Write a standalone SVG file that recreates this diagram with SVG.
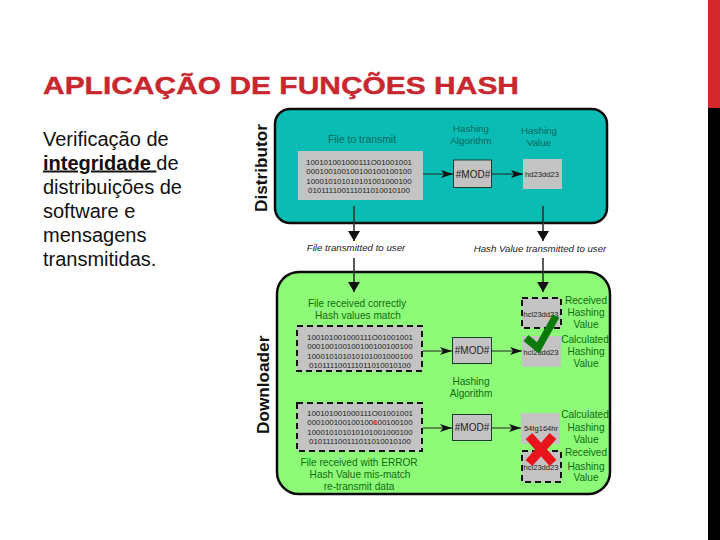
<svg xmlns="http://www.w3.org/2000/svg" width="720" height="540" viewBox="0 0 720 540">
<style>
text{font-family:"Liberation Sans",Arial,sans-serif}
.t{font-size:24px;font-weight:bold;fill:#c8272e;stroke:#c8272e;stroke-width:.4px}
.b{font-size:20px;fill:#111}
.side{font-size:17.200px;font-weight:bold;fill:#111}
.dl{fill:#006a5e;font-size:9.800px;text-anchor:middle}
.gl{fill:#0f6b0f;font-size:10.100px;text-anchor:middle}
.it{font-size:9.700px;font-style:italic;fill:#222;text-anchor:middle}
.bits{font-size:7.900px;fill:#222;text-anchor:middle}
.hash{font-size:7.600px;fill:#222;text-anchor:middle}
.mod{font-size:10px;fill:#222;text-anchor:middle}
.g{fill:#c3c3c3}
.dash{fill:#c3c3c3;stroke:#111;stroke-width:2;stroke-dasharray:6 4}
.m{stroke:#1c3c30;stroke-width:1}
.l{stroke:#222;stroke-width:1;fill:none}
.a{stroke:#333;stroke-width:1.600;fill:none}
</style>
<defs>
<marker id="h" viewBox="0 0 12 8" refX="12" refY="4" markerWidth="12" markerHeight="8" markerUnits="userSpaceOnUse" orient="auto"><path d="M0 0L12 4L0 8L3 4Z" fill="#111"/></marker>
<marker id="big" viewBox="0 0 12 10" refX="6" refY="10" markerWidth="12" markerHeight="10" markerUnits="userSpaceOnUse" orient="0"><path d="M0 0H12L6 10Z" fill="#111"/></marker>
</defs>
<rect x="708" y="0" width="12" height="108" fill="#d2282e"/>
<rect x="708" y="108" width="12" height="432" fill="#000"/>
<text class="t" x="43" y="94" textLength="476" lengthAdjust="spacingAndGlyphs">APLICAÇÃO DE FUNÇÕES HASH</text>
<text class="b" x="43" y="145.500">Verificação de</text>
<text class="b" x="43" y="169.500"><tspan font-weight="bold" text-decoration="underline">integridade </tspan>de</text>
<text class="b" x="43" y="193.500">distribuições de</text>
<text class="b" x="43" y="217.500">software e</text>
<text class="b" x="43" y="241.500">mensagens</text>
<text class="b" x="43" y="265.500">transmitidas.</text>

<g id="distributor">
<rect x="275" y="109" width="332" height="114" rx="15" fill="#0bbcb4" stroke="#0a0a0a" stroke-width="2.500"/>
<text class="side" transform="translate(267 212) rotate(-90)">Distributor</text>
<text class="dl" x="362" y="143" style="font-size:10.400px">File to transmit</text>
<text class="dl" x="471" y="132">Hashing</text>
<text class="dl" x="471" y="143.500">Algorithm</text>
<text class="dl" x="539" y="134">Hashing</text>
<text class="dl" x="539" y="146">Value</text>
</g>
<g id="file-send">
<rect class="g" x="298" y="151" width="125" height="49"/>
<text class="bits" x="359" y="165">100101001000111O01001001</text>
<text class="bits" x="359" y="174">000100100100100100100100</text>
<text class="bits" x="359" y="184">100010101010101001000100</text>
<text class="bits" x="359" y="193">010111100111011010010100</text>
</g>
<g id="mod-send"><rect class="g m" x="453.500" y="160" width="38" height="27.500"/><text class="mod" x="473" y="178">#MOD#</text></g>
<g id="hash-send"><rect class="g" x="523" y="159" width="39" height="30"/><text class="hash" x="542" y="177">hd23dd23</text></g>
<text class="it" x="356" y="251">File transmitted to user</text>
<text class="it" x="540" y="252">Hash Value transmitted to user</text>

<g id="downloader">
<rect x="277" y="272" width="333" height="222" rx="22" fill="#8efb78" stroke="#0a0a0a" stroke-width="2.500"/>
<text class="side" transform="translate(268.500 434) rotate(-90)">Downloader</text>
<text class="gl" x="357" y="307">File received correctly</text>
<text class="gl" x="358" y="319">Hash values match</text>
<text class="gl" x="471" y="385">Hashing</text>
<text class="gl" x="471" y="397">Algorithm</text>
<text class="gl" x="359" y="466">File received with ERROR</text>
<text class="gl" x="360" y="478">Hash Value mis-match</text>
<text class="gl" x="359" y="490">re-transmit data</text>
<text class="gl" x="586" y="304">Received</text><text class="gl" x="586" y="316">Hashing</text><text class="gl" x="586" y="328">Value</text>
<text class="gl" x="585" y="343">Calculated</text><text class="gl" x="586" y="355">Hashing</text><text class="gl" x="586" y="367">Value</text>
<text class="gl" x="585" y="418">Calculated</text><text class="gl" x="586" y="431">Hashing</text><text class="gl" x="586" y="443">Value</text>
<text class="gl" x="586" y="456">Received</text><text class="gl" x="586" y="470">Hashing</text><text class="gl" x="586" y="481">Value</text>
</g>
<g id="file-ok">
<rect class="dash" x="297" y="326" width="125" height="45"/>
<text class="bits" x="360" y="340">100101001000111O01001001</text>
<text class="bits" x="360" y="349">000100100100100100100100</text>
<text class="bits" x="360" y="359">100010101010101001000100</text>
<text class="bits" x="360" y="368">010111100111011010010100</text>
</g>
<g id="mod-ok"><rect class="g m" x="452.500" y="337.500" width="39" height="26"/><text class="mod" x="472" y="354">#MOD#</text></g>
<g id="hash-received-ok"><rect class="dash" x="522" y="298" width="39" height="30"/><text class="hash" x="541" y="317">hcl23dd23</text></g>
<g id="hash-calc-ok"><rect class="g" x="522" y="336" width="39" height="31"/><text class="hash" x="541" y="355">hcl23dd23</text></g>
<g id="file-err">
<rect class="dash" x="297" y="403" width="125" height="48"/>
<text class="bits" x="360" y="416">100101001000111O01001001</text>
<text class="bits" x="360" y="425">000100100100100100100100</text>
<text class="bits" x="360" y="435">100010101010101001000100</text>
<text class="bits" x="360" y="444">010111100111011010010100</text>
<circle cx="375" cy="422.500" r="2.200" fill="#e8564f"/>
</g>
<g id="mod-err"><rect class="g m" x="452.500" y="414.500" width="39" height="26"/><text class="mod" x="472" y="431">#MOD#</text></g>
<g id="hash-calc-err"><rect class="g" x="521" y="413" width="39" height="31"/><text class="hash" x="541" y="431">54tg164hr</text></g>
<g id="hash-received-err"><rect class="dash" x="522" y="451" width="39" height="31"/><text class="hash" x="541" y="470">hcl23dd23</text></g>
<g id="connectors">
<path class="l" d="M423 174H453" marker-end="url(#h)"/>
<path class="l" d="M491 174H523" marker-end="url(#h)"/>
<path class="l" d="M423 351H452" marker-end="url(#h)"/>
<path class="l" d="M491 351H522" marker-end="url(#h)"/>
<path class="l" d="M423 428H452" marker-end="url(#h)"/>
<path class="l" d="M491 428H521" marker-end="url(#h)"/>
<path class="a" d="M354 206V241" marker-end="url(#big)"/>
<path class="a" d="M543 206V241" marker-end="url(#big)"/>
<path class="a" d="M354 258V292" marker-end="url(#big)"/>
<path class="a" d="M543 258V292" marker-end="url(#big)"/>
</g>
<path id="check" d="M526 338L538 348L556 316" fill="none" stroke="#0a7a0a" stroke-width="7.500"/>
<path id="cross" d="M529 436L553 463M553 436L529 463" fill="none" stroke="#e8141c" stroke-width="9"/>
</svg>
